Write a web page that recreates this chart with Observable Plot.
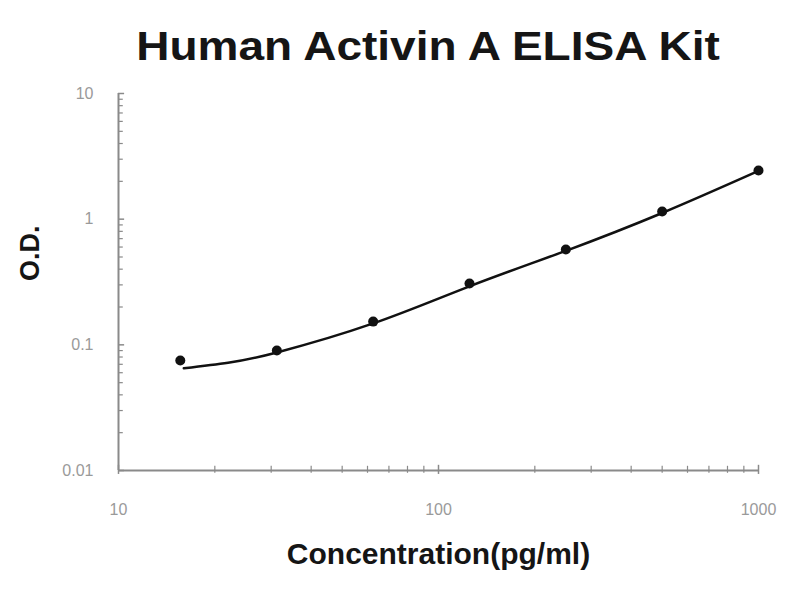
<!DOCTYPE html>
<html>
<head>
<meta charset="utf-8">
<script src="https://cdn.jsdelivr.net/npm/d3@7"></script>
<script src="https://cdn.jsdelivr.net/npm/@observablehq/plot@0.6"></script>
<style>
  body { margin: 0; background: #fff; font-family: "Liberation Sans", Arial, sans-serif; }
  #title { height: 80px; width: 800px; position: relative; }
  #title span { position: absolute; left: 428px; top: 46px; transform: translate(-50%, -50%) scaleX(1.15);
                white-space: nowrap; font-weight: bold; font-size: 40px; color: #151515; }
</style>
</head>
<body>
<div id="title"><span>Human Activin A ELISA Kit</span></div>
<div id="chart"></div>
<script>
// standard points (concentration pg/ml, O.D.)
const concentrations = [15.6, 31.25, 62.5, 125, 250, 500, 1000];
const odValues = [0.075, 0.09, 0.153, 0.308, 0.573, 1.15, 2.44];

// fitted curve
const curveX = [16, 22, 31.25, 62.5, 125, 250, 500, 1000];
const curveY = [0.065, 0.072, 0.087, 0.148, 0.292, 0.56, 1.12, 2.42];

const yTicks = [0.01, 0.1, 1, 10];
const yTickLabels = ["0.01", "0.1", "1", "10"];
const yMinor = [0.02, 0.03, 0.04, 0.05, 0.06, 0.07, 0.08, 0.09,
                0.2, 0.3, 0.4, 0.5, 0.6, 0.7, 0.8, 0.9,
                2, 3, 4, 5, 6, 7, 8, 9];
const xTicks = [10, 100, 1000];
const xTickLabels = ["10", "100", "1000"];
const xMinor = [20, 30, 40, 50, 60, 70, 80, 90, 200, 300, 400, 500, 600, 700, 800, 900];

let points = concentrations.map((c, i) => ({x: c, y: odValues[i]}));
let fit = curveX.map((c, i) => ({x: c, y: curveY[i]}));

const axisGray = "#8a8a8a";
const labelGray = "#9a9a9a";

let chart = Plot.plot({
  width: 800,
  height: 520,
  marginLeft: 118,
  marginRight: 42,
  marginTop: 13,
  marginBottom: 130,
  style: {fontFamily: "Liberation Sans, Arial, sans-serif", background: "#fff"},
  x: {type: "log", domain: [10, 1000], axis: null},
  y: {type: "log", domain: [0.01, 10], axis: null},
  marks: [
    // axis lines
    Plot.ruleX([10], {stroke: axisGray, strokeWidth: 2}),
    Plot.ruleY([0.01], {stroke: axisGray, strokeWidth: 2}),
    // y ticks (inside)
    Plot.ruleY(yMinor, {y: d => d, x1: 10, x2: 10.35, stroke: axisGray, strokeWidth: 1.2}),
    Plot.ruleY(yTicks, {y: d => d, x1: 10, x2: 10.45, stroke: axisGray, strokeWidth: 1.5}),
    // x ticks (crossing)
    Plot.ruleX(xMinor, {x: d => d, y1: 0.0095, y2: 0.0108, stroke: axisGray, strokeWidth: 1.2}),
    Plot.ruleX(xTicks, {x: d => d, y1: 0.0093, y2: 0.011, stroke: axisGray, strokeWidth: 1.5}),
    // tick labels
    Plot.axisY({ticks: yTicks, tickSize: 0, tickPadding: 25, tickFormat: d => yTickLabels[yTicks.indexOf(d)],
      fontSize: 16, color: labelGray, label: null}),
    Plot.axisX({ticks: xTicks, tickSize: 0, tickPadding: 33, tickFormat: d => xTickLabels[xTicks.indexOf(d)],
      fontSize: 16, color: labelGray, label: null}),
    // axis titles
    Plot.text(["O.D."], {frameAnchor: "left", dx: -88, dy: -1, rotate: -90, fontSize: 27, fontWeight: "bold", fill: "#151515"}),
    Plot.text(["Concentration(pg/ml)"], {frameAnchor: "bottom", dy: 93, fontSize: 30, fontWeight: "bold", fill: "#151515"}),
    // fitted curve and points
    Plot.line(fit, {x: "x", y: "y", curve: "natural", stroke: "#111", strokeWidth: 2.5}),
    Plot.dot(points, {x: "x", y: "y", r: 5, fill: "#111", stroke: "none"})
  ]
});

d3.select("#chart").append(() => chart);
</script>
</body>
</html>
